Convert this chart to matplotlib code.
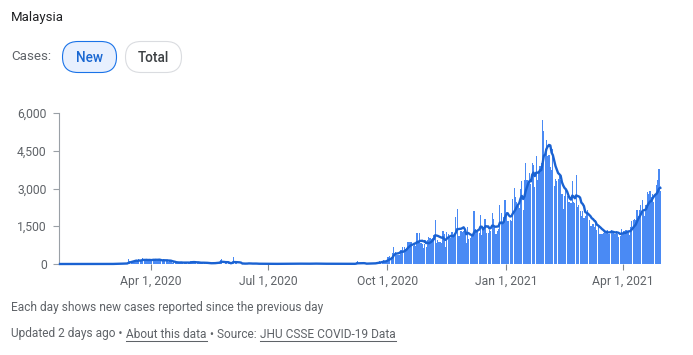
import matplotlib
matplotlib.use("Agg")
import matplotlib.pyplot as plt
import matplotlib.dates as mdates
from matplotlib.patches import FancyBboxPatch
from matplotlib.lines import Line2D
import pandas as pd

plt.rcParams['font.family'] = ['Roboto', 'DejaVu Sans']

# ---- data: daily new cases, Malaysia, 2020-01-22 .. 2021-04-30 ----
jan2020 = [0, 0, 0, 3, 1, 0, 0, 3, 0, 1]
feb2020 = [0, 0, 0, 0, 2, 2, 2, 0, 1, 1, 1, 0, 0, 0, 1, 1, 0, 0, 0, 0,
           0, 0, 0, 0, 0, 0, 0, 3, 4]
mar2020 = [4, 0, 7, 14, 5, 28, 10, 6, 18, 12, 20, 9, 39, 41, 190, 125, 120, 117, 110, 130,
           153, 123, 212, 106, 172, 235, 130, 159, 150, 156, 140]
apr2020 = [142, 208, 217, 150, 179, 131, 170, 156, 109, 118, 184, 153, 134, 170, 85, 110, 69, 54, 84, 36,
           57, 50, 71, 88, 51, 38, 40, 31, 94, 57]
may2020 = [69, 105, 122, 55, 30, 45, 39, 68, 54, 67, 70, 16, 37, 40, 36, 17, 22, 47, 37, 31,
           50, 78, 48, 60, 172, 187, 15, 10, 30, 38, 57]
jun2020 = [38, 20, 93, 277, 19, 37, 19, 7, 2, 8, 31, 33, 6, 27, 16, 41, 8, 7, 10, 21,
           16, 12, 5, 2, 3, 6, 4, 3, 7, 8]
jul2020 = [9, 2, 5, 3, 3, 6, 8, 14, 6, 15, 13, 9, 6, 7, 7, 12, 15, 9, 15, 14,
           8, 6, 23, 23, 12, 5, 8, 5, 16, 15, 11]
aug2020 = [11, 13, 3, 21, 26, 9, 23, 3, 9, 5, 3, 25, 19, 4, 3, 9, 7, 24, 9, 16,
           6, 9, 4, 12, 2, 7, 3, 4, 6, 16, 8]
sep2020 = [8, 5, 4, 10, 9, 6, 62, 100, 11, 15, 25, 14, 10, 12, 10, 22, 18, 14, 29, 26,
           52, 21, 82, 71, 111, 82, 115, 147, 101, 89]
oct2020 = [260, 287, 317, 293, 432, 691, 489, 374, 354, 373, 561, 563, 660, 660, 589, 629, 869, 871, 865, 862,
           732, 847, 710, 1228, 823, 1240, 835, 801, 649, 799, 659]
nov2020 = [957, 1054, 1032, 1009, 1032, 1168, 1755, 852, 972, 869, 869, 822, 1304, 1208, 659, 1290, 1210, 1098, 1040, 1290,
           1109, 1096, 1884, 2188, 1104, 1109, 1315, 1290, 1315, 1309]
dec2020 = [851, 1472, 975, 1041, 1123, 1141, 2123, 1371, 1279, 1290, 1229, 1937, 1155, 1371, 1772, 1772, 1220, 1229, 1340, 1311,
           2018, 1772, 1500, 1200, 1293, 1386, 2335, 2038, 1594, 1870, 2525]
jan2021 = [2068, 1704, 1704, 1741, 1704, 2593, 3027, 2643, 2451, 2296, 2232, 2985, 3309, 2163, 3337, 4029, 3346, 3306, 3631, 3170,
           4008, 3941, 3048, 4275, 3346, 3585, 3900, 4000, 5725, 5298, 4571]
feb2021 = [4914, 4284, 4330, 3847, 3731, 4571, 3100, 3388, 3288, 3384, 3499, 3318, 2764, 2176, 2720, 2936, 2712, 2461, 2464, 2437,
           3297, 2468, 2437, 3545, 2253, 2364, 2100, 1900]
mar2021 = [2100, 1828, 1900, 2063, 2154, 1745, 1529, 1529, 1575, 1470, 1745, 1340, 1529, 1208, 1208, 1208, 1213, 1348, 1275, 1341,
           1208, 1208, 1361, 1267, 1213, 1200, 1316, 1208, 1054, 1094, 1393]
apr2021 = [1235, 1327, 1349, 1349, 1291, 1139, 1482, 1700, 1765, 1800, 1767, 2145, 1889, 2148, 2331, 2551, 2078, 1889, 2341, 2875,
           2765, 2881, 2668, 2776, 2456, 2800, 3142, 3332, 3788, 2881]

start_date = "2020-01-22"
y_ticks = [0, 1500, 3000, 4500, 6000]
x_tick_dates = ["2020-04-01", "2020-07-01", "2020-10-01", "2021-01-01", "2021-04-01"]
x_tick_labels = ["Apr 1, 2020", "Jul 1, 2020", "Oct 1, 2020", "Jan 1, 2021", "Apr 1, 2021"]

cases = (jan2020 + feb2020 + mar2020 + apr2020 + may2020 + jun2020 + jul2020 + aug2020 +
         sep2020 + oct2020 + nov2020 + dec2020 + jan2021 + feb2021 + mar2021 + apr2021)
dates = pd.date_range(start_date, periods=len(cases))
avg = pd.Series(cases).rolling(7, min_periods=1).mean().values

W, H = 693, 355
fig = plt.figure(figsize=(W / 100, H / 100), dpi=100)
fig.patch.set_facecolor("white")

# overlay in pixel coordinates
ov = fig.add_axes([0, 0, 1, 1])
ov.set_xlim(0, W)
ov.set_ylim(H, 0)
ov.axis("off")

ax = fig.add_axes([59 / W, (H - 264) / H, 604 / W, 151 / H])
ax.set_facecolor("none")
ax.bar(dates, cases, width=0.88, color="#4a8af4", linewidth=0, zorder=2)
ax.plot(dates, avg, color="#1a62d2", lw=1.7, solid_joinstyle="round", zorder=3, clip_on=False)

x0 = mdates.date2num(pd.Timestamp(start_date))
ax.set_xlim(x0 - 0.77, x0 + 466.1)
ax.set_ylim(0, 6000)
ax.set_yticks(y_ticks)
ax.set_yticklabels([f"{v:,}" for v in y_ticks])
ax.set_xticks([mdates.date2num(pd.Timestamp(d)) for d in x_tick_dates])
ax.set_xticklabels(x_tick_labels)
for s in ["top", "right", "bottom"]:
    ax.spines[s].set_visible(False)
ax.spines["left"].set_color("#9aa0a6")
ax.spines["left"].set_linewidth(0.8)
ax.tick_params(axis="y", length=4.3, width=0.8, color="#9aa0a6", labelcolor="#5f6368",
               labelsize=8.7, pad=4.5)
ax.tick_params(axis="x", length=4.3, width=0.8, color="#80868b", labelcolor="#5f6368",
               labelsize=8.7, pad=3.5)

# header
ov.text(11, 17, "Malaysia", fontsize=9.5, color="#202124", va="center", ha="left")
ov.text(11, 57, "Cases:", fontsize=9.6, color="#5f6368", va="center", ha="left")

ov.add_patch(FancyBboxPatch((62.5, 41.5), 54, 31, boxstyle="round,pad=0,rounding_size=15.5",
                            fc="#e8f0fe", ec="#1a73e8", lw=0.8))
ov.text(89.5, 57.5, "New", fontsize=9.8, color="#1967d2", fontweight="medium",
        va="center", ha="center")
ov.add_patch(FancyBboxPatch((125.5, 41.5), 56, 31, boxstyle="round,pad=0,rounding_size=15.5",
                            fc="white", ec="#dadce0", lw=0.8))
ov.text(153.5, 57.5, "Total", fontsize=9.8, color="#3c4043", fontweight="medium",
        va="center", ha="center")

# footer
foot_color = "#5f6368"
fs = 8.55
ov.text(11, 307, "Each day shows new cases reported since the previous day", fontsize=fs,
        color=foot_color, va="center", ha="left")
ov.text(11, 334, "Updated 2 days ago \u2022", fontsize=fs, color=foot_color, va="center", ha="left")
t_about = ov.text(126, 334, "About this data", fontsize=fs, color=foot_color, va="center", ha="left")
ov.text(210, 334, "\u2022 Source:", fontsize=fs, color=foot_color, va="center", ha="left")
t_src = ov.text(260, 334, "JHU CSSE COVID-19 Data", fontsize=fs, color=foot_color, va="center", ha="left")

fig.canvas.draw()
r = fig.canvas.get_renderer()
for t in (t_about, t_src):
    bb = t.get_window_extent(r)
    ov.add_line(Line2D([bb.x0, bb.x1], [340.5, 340.5], color=foot_color, lw=0.75))

fig.savefig("out.png", dpi=100, facecolor="white")
